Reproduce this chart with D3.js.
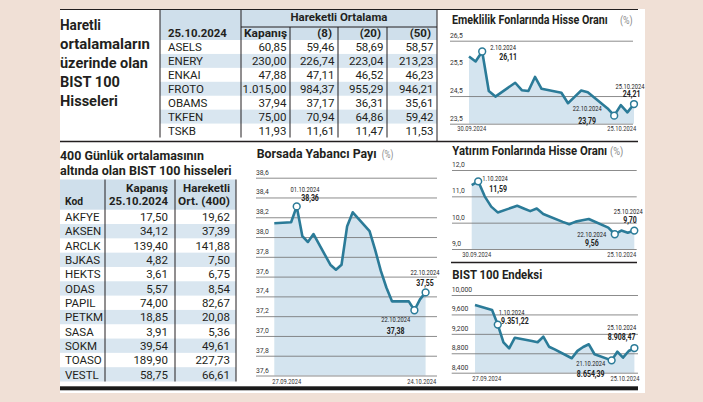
<!DOCTYPE html>
<html><head><meta charset="utf-8">
<script src="https://cdn.jsdelivr.net/npm/d3@7"></script>
<style>html,body{margin:0;padding:0;background:#f0e0d6;} svg{display:block}</style>
</head><body><svg id="c" width="703" height="402"></svg>
<script>
// ---------------- DATA ----------------
const mainTitle = ["Haretli","ortalamaların","üzerinde olan","BIST 100","Hisseleri"];
const maDateHeader = "25.10.2024";
const maGroupHeader = "Hareketli Ortalama";
const maHeaders = ["Kapanış","(8)","(20)","(50)"];
const maCodes = ["ASELS","ENERY","ENKAI","FROTO","OBAMS","TKFEN","TSKB"];
const maClose = [60.85,230.00,47.88,1015.00,37.94,75.00,11.93];
const ma8 = [59.46,226.74,47.11,984.37,37.17,70.94,11.61];
const ma20 = [58.69,223.04,46.52,955.29,36.31,64.86,11.47];
const ma50 = [58.57,213.23,46.23,946.21,35.61,59.42,11.53];

const lowTitle = ["400 Günlük ortalamasının","altında olan BIST 100 hisseleri"];
const lowHeaders = [["Kod"],["Kapanış","25.10.2024"],["Hareketli","Ort. (400)"]];
const lowCodes = ["AKFYE","AKSEN","ARCLK","BJKAS","HEKTS","ODAS","PAPIL","PETKM","SASA","SOKM","TOASO","VESTL"];
const lowClose = [17.50,34.12,139.40,4.82,3.61,5.57,74.00,18.85,3.91,39.54,189.90,58.75];
const lowMa400 = [19.62,37.39,141.88,7.50,6.75,8.54,82.67,20.08,5.36,49.61,227.73,66.61];

const tradingDays = ["2024-09-27","2024-09-30","2024-10-01","2024-10-02","2024-10-03","2024-10-04",
  "2024-10-07","2024-10-08","2024-10-09","2024-10-10","2024-10-11","2024-10-14","2024-10-15",
  "2024-10-16","2024-10-17","2024-10-18","2024-10-21","2024-10-22","2024-10-23","2024-10-24","2024-10-25"];

const emekTitle = "Emeklilik Fonlarında Hisse Oranı";
const emekDates = tradingDays.slice(1);
const emekValues = [25.93,25.75,26.11,24.68,24.48,24.98,24.71,24.68,25.19,24.76,24.62,24.24,24.47,24.70,24.64,24.05,23.79,24.17,23.91,24.21];
const emekTicks = [23.5,24.5,25.5,26.5];
const emekTickLabels = ["23,5","24,5","25,5","26,5"];
const emekNotes = [[2,"2.10.2024","26,11"],[16,"22.10.2024","23,79"],[19,"25.10.2024","24,21"]];
const emekAxisLabels = [[0,"30.09.2024"],[19,"25.10.2024"]];

const yabTitle = "Borsada  Yabancı Payı";
const yabDates = tradingDays.slice(0,20);
const yabValues = [38.14,38.15,38.31,38.01,37.95,38.03,37.72,37.67,37.72,38.11,38.25,38.06,37.87,37.66,37.49,37.35,37.35,37.26,37.37,37.44];
const yabTicks = [36.6,36.8,37.0,37.2,37.4,37.6,37.8,38.0,38.2,38.4,38.6];
const yabTickLabels = ["37,6","37,8","37,0","37,2","37,4","37,6","37,8","38,0","38,2","38,4","38,6"];
const yabNotes = [[2,"01.10.2024","38,36"],[17,"22.10.2024","37,38"],[19,"22.10.2024","37,55"]];
const yabAxisLabels = [[0,"27.09.2024"],[19,"24.10.2024"]];

const yatTitle = "Yatırım Fonlarında Hisse Oranı";
const yatDates = tradingDays.slice(1);
const yatValues = [11.43,11.57,11.00,10.61,10.39,10.64,10.54,10.44,10.54,10.33,10.03,9.94,10.04,10.09,10.14,9.81,9.56,9.70,9.62,9.70];
const yatTicks = [9,10,11,12];
const yatTickLabels = ["9,0","10,0","11,0","12,0"];
const yatNotes = [[1,"1.10.2024","11,59"],[16,"22.10.2024","9,56"],[19,"25.10.2024","9,70"]];
const yatAxisLabels = [[0,"30.09.2024"],[19,"25.10.2024"]];

const bistTitle = "BIST 100 Endeksi";
const bistDates = tradingDays;
const bistValues = [9794,9691,9390,9026,8902,9121,9053,9026,9141,8935,8880,8697,8850,8930,8985,8780,8654,8832,8709,8847,8908];
const bistTicks = [8400,8800,9200,9600,10000];
const bistTickLabels = ["8,400","8,800","9,200","9,600","10,000"];
const bistNotes = [[2,"1.10.2024","9.351,22"],[16,"21.10.2024","8.654,39"],[20,"25.10.2024","8.908,47"]];
const bistAxisLabels = [[0,"27.09.2024"],[20,"25.10.2024"]];

// ---------------- STYLE ----------------
const BG="#f0e0d6", INK="#231f20", HEAD="#cfdfeb", STRIPE="#d9e6f0", AREA="#d4e4ef", LINE="#2b7b98";
const FONT="Roboto, 'Open Sans', sans-serif";
const tr = d3.formatLocale({decimal:",",thousands:".",grouping:[3],currency:["",""]});
const f2 = tr.format(",.2f");
const parse = d3.timeParse("%Y-%m-%d");
const svg = d3.select("#c");

function txt(g,x,y,s,o={}){
  const t=g.append("text").attr("x",0).attr("y",0).attr("transform",`translate(${x},${y})`)
    .datum({x,y}).text(s).attr("font-family",FONT)
    .attr("font-size",o.size||11.5).attr("font-weight",o.bold?700:400).attr("fill",o.fill||INK)
    .attr("text-anchor",o.anchor||"start");
  return t;
}
function compress(sel,k){ sel.attr("transform",d=>`translate(${d.x},${d.y}) scale(${k},1)`); return sel; }
function fitW(sel,w){ const n=sel.node().getComputedTextLength(); return compress(sel,w/n); }
function hline(x1,x2,y,w,c){ svg.append("line").attr("x1",x1).attr("x2",x2).attr("y1",y).attr("y2",y).attr("stroke",c||INK).attr("stroke-width",w||1); }
function vline(x,y1,y2,w,c){ svg.append("line").attr("x1",x).attr("x2",x).attr("y1",y1).attr("y2",y2).attr("stroke",c||INK).attr("stroke-width",w||1); }

svg.append("rect").attr("width",703).attr("height",402).attr("fill",BG);
svg.append("rect").attr("x",60).attr("y",9).attr("width",585).attr("height",384).attr("fill","#fff");

// ---------------- TOP TABLE ----------------
const titleW=[41,90,88,60,58];
mainTitle.forEach((s,i)=>fitW(txt(svg,60,29.5+i*19,s,{size:14,bold:true}),titleW[i]));

const colX=[160,241,290,338,387,437];
const rowY=d3.scaleBand().domain(d3.range(maCodes.length)).range([40,137.5]);
svg.append("rect").attr("x",colX[0]).attr("y",9.5).attr("width",colX[5]-colX[0]).attr("height",30.5).attr("fill",HEAD);
maCodes.forEach((c,i)=>{ if(i%2===1) svg.append("rect").attr("x",colX[0]).attr("y",rowY(i)).attr("width",colX[5]-colX[0]).attr("height",rowY.bandwidth()).attr("fill",STRIPE); });
fitW(txt(svg,339,21,maGroupHeader,{bold:true,anchor:"middle"}),97);
fitW(txt(svg,168,36.7,maDateHeader,{bold:true}),59);
fitW(txt(svg,287,36.7,maHeaders[0],{bold:true,anchor:"end"}),43);
[1,2,3].forEach(k=>txt(svg,colX[k+2]-6,36.7,maHeaders[k],{bold:true,anchor:"end"}));
const maCols=[maClose,ma8,ma20,ma50];
maCodes.forEach((c,i)=>{
  const yb=rowY(i)+rowY.bandwidth()/2+4.2;
  txt(svg,168,yb,c);
  maCols.forEach((arr,k)=>txt(svg,colX[k+2]-3.5,yb,f2(arr[i]),{anchor:"end"}));
});
vline(colX[0],9.5,137.5,1); vline(colX[1],9.5,137.5,1);
[2,3,4].forEach(k=>vline(colX[k],27,137.5,1));
vline(colX[5],9.5,141,1);
hline(colX[1],colX[5],27,1);

// ---------------- BOTTOM TABLE ----------------
fitW(txt(svg,60,160,lowTitle[0],{size:12.5,bold:true}),144);
fitW(txt(svg,60,174.5,lowTitle[1],{size:12.5,bold:true}),172);
const bX=[60,105,175,236];
const bY=d3.scaleBand().domain(d3.range(lowCodes.length)).range([209.7,381.5]);
svg.append("rect").attr("x",bX[0]).attr("y",179.5).attr("width",bX[3]-bX[0]).attr("height",30.2).attr("fill",HEAD);
lowCodes.forEach((c,i)=>{ if(i%2===1) svg.append("rect").attr("x",bX[0]).attr("y",bY(i)).attr("width",bX[3]-bX[0]).attr("height",bY.bandwidth()).attr("fill",STRIPE); });
const hs={bold:true,size:10.5};
fitW(txt(svg,65,205,lowHeaders[0][0],hs),18);
fitW(txt(svg,168,192.3,lowHeaders[1][0],{...hs,anchor:"end"}),42);
fitW(txt(svg,168,205,lowHeaders[1][1],{...hs,anchor:"end"}),59);
fitW(txt(svg,230,192.3,lowHeaders[2][0],{...hs,anchor:"end"}),47);
fitW(txt(svg,230,205,lowHeaders[2][1],{...hs,anchor:"end"}),52);
lowCodes.forEach((c,i)=>{
  const yb=bY(i)+bY.bandwidth()/2+4.2;
  txt(svg,65,yb,c);
  txt(svg,168,yb,f2(lowClose[i]),{anchor:"end"});
  txt(svg,230,yb,f2(lowMa400[i]),{anchor:"end"});
});
vline(bX[1],179.5,381.5,1); vline(bX[2],179.5,381.5,1); vline(bX[3],179.5,381.5,1);

// ---------------- CHARTS ----------------
function drawChart(c){
  const dates=c.dates.map(parse);
  const x=d3.scaleTime().domain(d3.extent(dates)).range(c.xr);
  const y=d3.scaleLinear().domain(c.yd).range(c.yr);
  const data=c.values.map((v,i)=>({d:dates[i],v}));
  const g=svg.append("g");
  fitW(txt(g,c.title[1],c.title[2],c.title[0],{size:12,bold:true}),c.title[3]);
  if(c.pct) fitW(txt(g,c.pct[0],c.title[2],"(%)",{size:10.5,fill:"#8a8a8a"}),c.pct[1]);
  g.append("path").datum(data).attr("fill",AREA)
    .attr("d",d3.area().x(p=>x(p.d)).y0(y(c.yd[0])).y1(p=>y(p.v)));
  const ax=g.append("g").attr("transform",`translate(${c.gx[0]},0)`)
    .call(d3.axisRight(y).tickValues(c.ticks).tickSize(c.gx[1]-c.gx[0]).tickFormat((d,i)=>c.tickLabels[i]));
  ax.select(".domain").remove();
  ax.selectAll(".tick line").attr("stroke","#6f6f6f").attr("stroke-width",0.8)
    .attr("stroke-opacity",d=>(c.hideGrid||[]).includes(d)?0:1);
  ax.selectAll(".tick text").attr("x",0).attr("dy",-3.5).attr("text-anchor","start")
    .attr("font-family",FONT).attr("font-size",8).attr("fill","#333").attr("transform","scale(0.85,1)");
  g.append("path").datum(data).attr("fill","none").attr("stroke",LINE).attr("stroke-width",2.6)
    .attr("stroke-linejoin","round").attr("d",d3.line().x(p=>x(p.d)).y(p=>y(p.v)));
  c.notes.forEach((n,j)=>{
    const p=data[n[0]], px=x(p.d), py=y(p.v), o=c.noteOff[j];
    g.append("circle").attr("cx",px).attr("cy",py).attr("r",3.4).attr("fill","#fff").attr("stroke",LINE).attr("stroke-width",1.5);
    compress(txt(g,px+o[0],py+o[1],n[1],{size:8,anchor:"middle",fill:"#222"}),0.72);
    compress(txt(g,px+o[2],py+o[3],n[2],{size:8.5,bold:true,anchor:"middle",fill:"#222"}),0.82);
  });
  c.axisLabels.forEach((a,j)=>{
    compress(txt(g,x(dates[a[0]])+c.axisDx[j],c.axisY,a[1],{size:8,anchor:"middle",fill:"#333"}),0.72);
  });
}

drawChart({title:[emekTitle,452,24,156],pct:[620,12.7],dates:emekDates,values:emekValues,
  xr:[469,634],yd:[23.5,26.5],yr:[123.7,40.7],gx:[450,633],ticks:emekTicks,tickLabels:emekTickLabels,hideGrid:[25.5],
  notes:emekNotes,noteOff:[[21,-1,26,8.5],[-27,-5,-27,8.5],[-4,-15.3,-2.3,-6.8]],
  axisLabels:emekAxisLabels,axisDx:[2.7,-12.3],axisY:130.5});

drawChart({title:[yabTitle,256.7,158.3,120],pct:[381.7,11.6],dates:yabDates,values:yabValues,
  xr:[274.3,425.6],yd:[36.6,38.6],yr:[375.5,177.7],gx:[256,437],ticks:yabTicks,tickLabels:yabTickLabels,
  notes:yabNotes,noteOff:[[8.3,-14,13.3,-5],[-18.7,11.8,-18.7,23.3],[-0.6,-17.4,-0.6,-6.4]],
  axisLabels:yabAxisLabels,axisDx:[12.4,-3.9],axisY:383.5});

drawChart({title:[yatTitle,452.3,155,155],pct:[610,13.3],dates:yatDates,values:yatValues,
  xr:[471.7,634.3],yd:[9,12],yr:[249,170],gx:[452,636.7],ticks:yatTicks,tickLabels:yatTickLabels,
  notes:yatNotes,noteOff:[[16.8,-0.3,20,10.7],[-23,2.7,-23,12.2],[-6,-17,-4.3,-7.6]],
  axisLabels:yatAxisLabels,axisDx:[5,-12.6],axisY:257});

drawChart({title:[bistTitle,452.3,279,90],dates:bistDates,values:bistValues,
  xr:[475,634.4],yd:[8400,10000],yr:[372.7,295],gx:[451.7,638],ticks:bistTicks,tickLabels:bistTickLabels,
  notes:bistNotes,noteOff:[[13.9,-10.1,17.2,-0.6],[-20.9,6.1,-20.9,16.6],[-12.7,-18.5,-12.7,-8.5]],
  axisLabels:bistAxisLabels,axisDx:[11.7,-9.4],axisY:381});

hline(60,638,9.5,1.2);
hline(60,638,141.5,1.6);
hline(451,637,262.5,1.6);
svg.append("rect").attr("x",60).attr("y",386.3).attr("width",578).attr("height",4).attr("fill","#1a1a1a");
svg.append("rect").attr("x",645).attr("y",0).attr("width",58).attr("height",402).attr("fill",BG);
</script></body></html>
